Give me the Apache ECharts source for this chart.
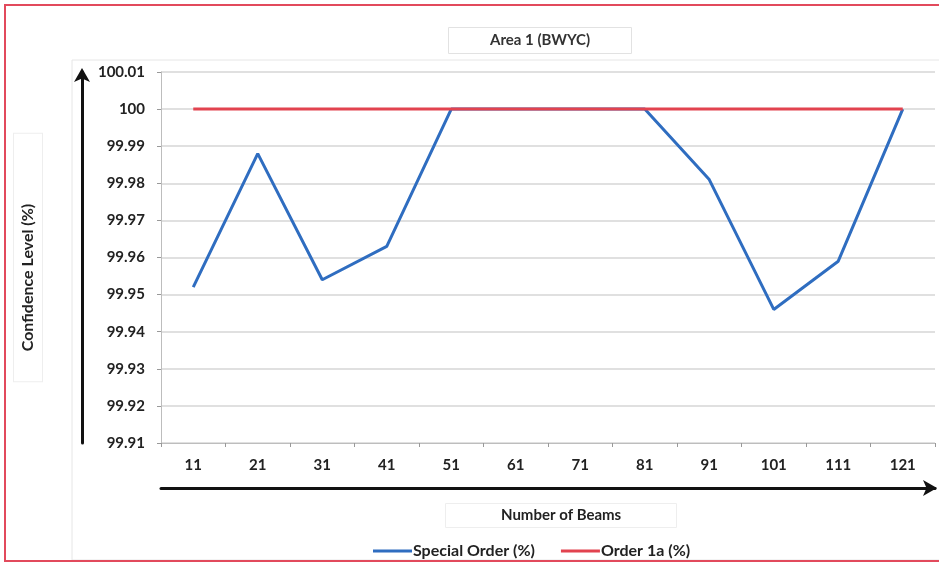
<!DOCTYPE html>
<html>
<head>
<meta charset="utf-8">
<script src="https://cdn.jsdelivr.net/npm/echarts@6/dist/echarts.min.js"></script>
<style>
html,body{margin:0;padding:0;background:#fff;}
#chart{width:939px;height:564px;}
</style>
</head>
<body>
<div id="chart"></div>
<script>
var categories = ['11','21','31','41','51','61','71','81','91','101','111','121'];
var specialOrder = [99.952, 99.988, 99.954, 99.963, 100, 100, 100, 100, 99.981, 99.946, 99.959, 100];
var order1a = [100, 100, 100, 100, 100, 100, 100, 100, 100, 100, 100, 100];
var yMin = 99.91, yMax = 100.01, yStep = 0.01;

var FONT = 'Lato';
var chart = echarts.init(document.getElementById('chart'));
chart.setOption({
  backgroundColor: '#fff',
  animation: false,
  textStyle: { fontFamily: FONT },
  graphic: [
    { type: 'rect', z: 100, shape: { x: 5, y: 5, width: 940, height: 556 },
      style: { fill: 'none', stroke: '#e24a5c', lineWidth: 2 } },
    { type: 'rect', z: 1, shape: { x: 72, y: 60, width: 880, height: 500 },
      style: { fill: 'none', stroke: '#e6e6e6', lineWidth: 1 } }
  ],
  title: [
    { text: 'Area 1 (BWYC)', left: 448, top: 27,
      backgroundColor: '#fff', borderColor: '#e2e2e2', borderWidth: 1,
      padding: [6, 42, 6, 42],
      textStyle: { fontFamily: FONT, fontSize: 15, fontWeight: 'bold', color: '#333' } },
    { text: 'Number of Beams', left: 445, top: 503,
      backgroundColor: '#fff', borderColor: '#eeeeee', borderWidth: 1,
      padding: [5, 56, 5, 56],
      textStyle: { fontFamily: FONT, fontSize: 15, fontWeight: 'bold', color: '#222' } }
  ],
  legend: {
    left: 368, top: 538,
    itemWidth: 39, itemHeight: 3, itemGap: 26,
    icon: 'rect',
    textStyle: { fontFamily: FONT, fontSize: 16, fontWeight: 'bold', color: '#222', padding: [0, 0, 0, -4] },
    data: ['Special Order (%)', 'Order 1a (%)']
  },
  grid: { left: 161, right: 4, top: 72, bottom: 121, containLabel: false },
  xAxis: [
    {
      type: 'category', data: categories, boundaryGap: true,
      axisLine: { show: true, lineStyle: { color: '#bdbdbd', width: 1 } },
      axisTick: { show: true, length: 4, lineStyle: { color: '#999' } },
      axisLabel: { margin: 15, fontFamily: FONT, fontSize: 15, fontWeight: 'bold', color: '#222' },
      splitLine: { show: false }
    },
    {
      type: 'category', data: categories, position: 'bottom', offset: 45,
      axisLine: { show: true, symbol: ['none', 'arrow'], symbolSize: [12, 14], symbolOffset: [0, 2],
        lineStyle: { color: '#111', width: 3 } },
      axisTick: { show: false }, axisLabel: { show: false }, splitLine: { show: false }
    }
  ],
  yAxis: [
    {
      type: 'value', min: yMin, max: yMax, interval: yStep,
      axisLine: { show: true, lineStyle: { color: '#bdbdbd', width: 1 } },
      axisTick: { show: true, length: 4, lineStyle: { color: '#999' } },
      axisLabel: { margin: 16, fontFamily: FONT, fontSize: 15, fontWeight: 'bold', color: '#222',
        formatter: function (v) { return String(+v.toFixed(2)); } },
      splitLine: { show: true, lineStyle: { color: '#d6d6d6', width: 1.5 } }
    },
    {
      type: 'value', min: yMin, max: yMax, interval: yStep, position: 'left', offset: 79,
      name: 'Confidence Level (%)', nameLocation: 'middle', nameRotate: 90, nameGap: 40,
      nameTextStyle: { fontFamily: FONT, fontSize: 16, fontWeight: 'bold', color: '#222',
        backgroundColor: '#fff', borderColor: '#eeeeee', borderWidth: 1, padding: [6, 70, 6, 30] },
      axisLine: { show: true, symbol: ['none', 'arrow'], symbolSize: [12, 14], symbolOffset: [0, 4],
        lineStyle: { color: '#111', width: 3 } },
      axisTick: { show: false }, axisLabel: { show: false }, splitLine: { show: false }
    }
  ],
  series: [
    { name: 'Special Order (%)', type: 'line', data: specialOrder, xAxisIndex: 0, yAxisIndex: 0,
      symbol: 'none', lineStyle: { color: '#2f6dc0', width: 3 }, itemStyle: { color: '#2f6dc0' }, z: 3 },
    { name: 'Order 1a (%)', type: 'line', data: order1a, xAxisIndex: 0, yAxisIndex: 0,
      symbol: 'none', lineStyle: { color: '#e2434f', width: 3 }, itemStyle: { color: '#e2434f' }, z: 4 }
  ]
});
</script>
</body>
</html>
